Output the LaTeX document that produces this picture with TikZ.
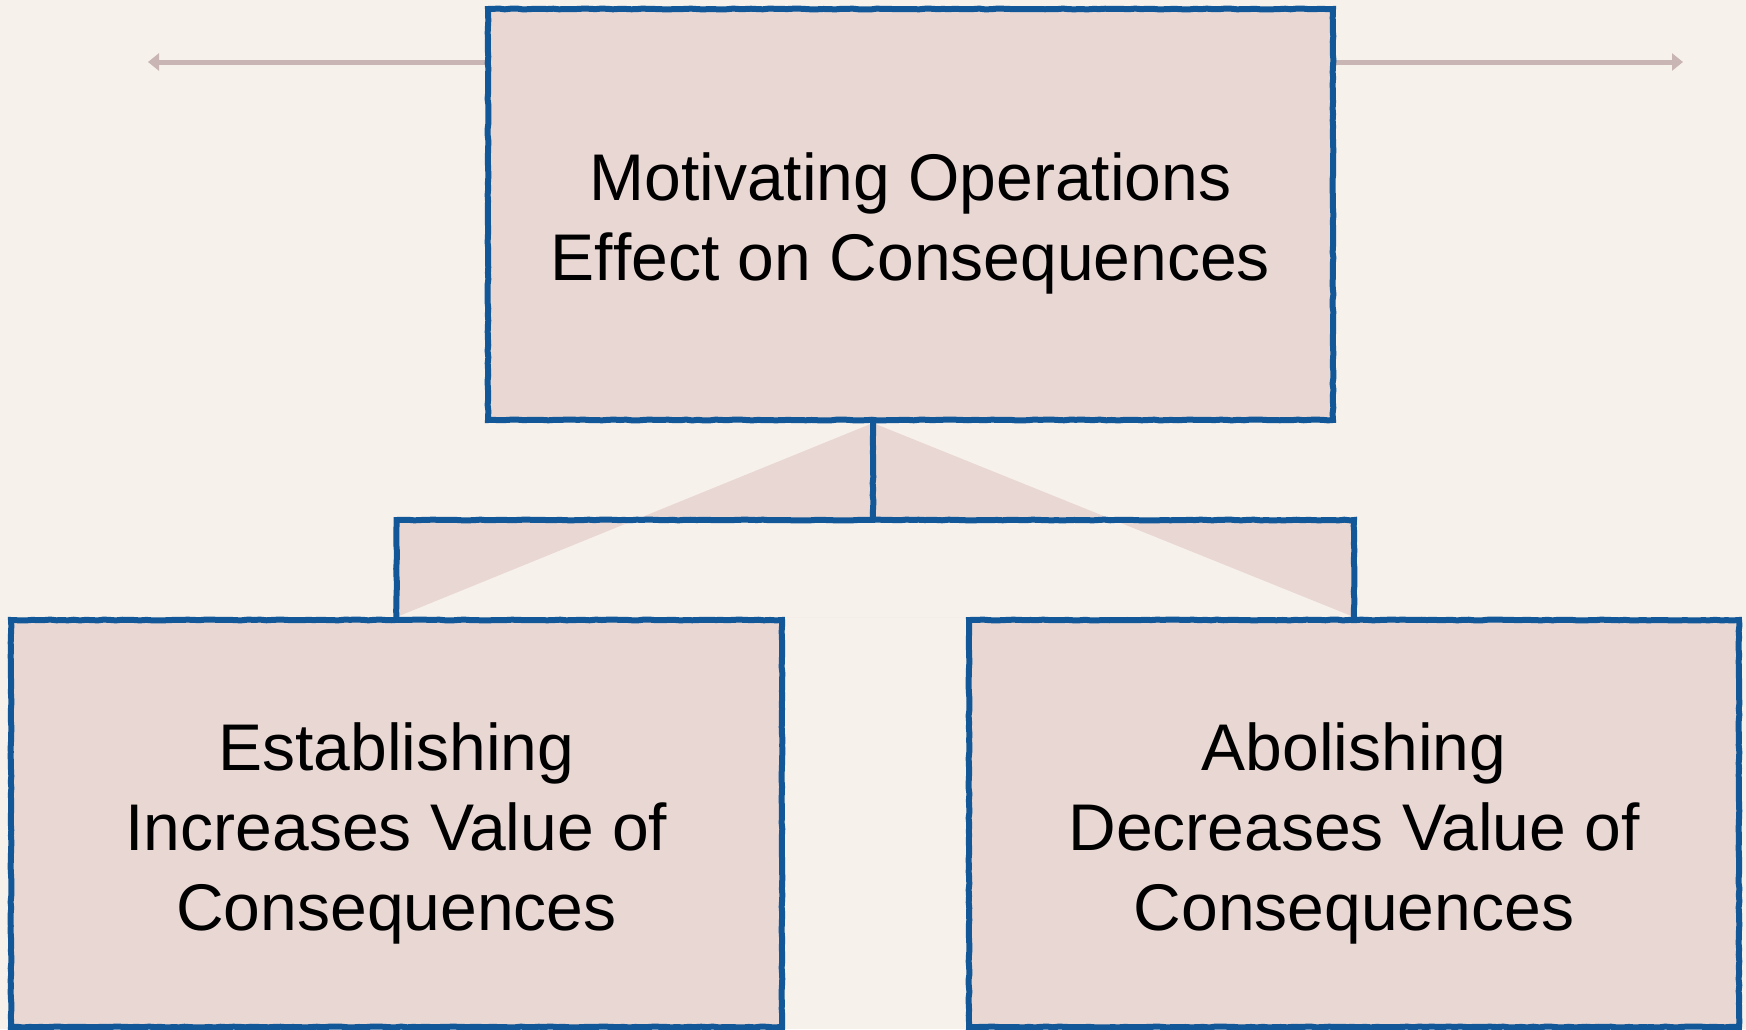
\documentclass[tikz,border=0pt]{standalone}
\usepackage{fontspec}
\setmainfont[Ligatures=NoCommon]{Liberation Sans}
\usetikzlibrary{arrows.meta,decorations.pathmorphing}
\definecolor{paper}{RGB}{247,241,235}
\definecolor{boxpink}{RGB}{233,215,212}
\definecolor{inkblue}{RGB}{18,88,152}
\definecolor{axisgray}{RGB}{201,182,180}
\pgfdeclarelayer{paperlayer}
\pgfdeclarelayer{links}
\pgfsetlayers{paperlayer,links,main}
\pgfmathsetseed{7}
\begin{document}
\begin{tikzpicture}[x=1pt,y=-1pt,
  box/.style={draw=inkblue,line width=6pt,fill=boxpink,rectangle,inner sep=0pt,
              decorate,decoration={random steps,segment length=6pt,amplitude=0.45pt}},
  label text/.style={align=center,text=black,inner sep=0pt,font=\fontsize{66}{80}\selectfont},
  link/.style={draw=inkblue,line width=6pt,
               decorate,decoration={random steps,segment length=6pt,amplitude=0.4pt}},
  axisarrow/.style={draw=axisgray,line width=5pt,-{Triangle[length=11pt,width=17pt]}}]
\useasboundingbox (0,0) rectangle (1746,1029);

% the three boxes
\node[box,minimum width=845pt,minimum height=411pt] (mo) at (910.5,214.5) {};
\node[box,minimum width=771pt,minimum height=407pt] (est) at (396.5,823.5) {};
\node[box,minimum width=770pt,minimum height=407pt] (abol) at (1354,823.5) {};

% their texts
\node[label text] (motext) at ([yshift=-9pt]mo.center)
  {Motivating Operations\\Ef\kern0ptfect on Consequences};
\node[label text] (esttext) at ([yshift=-10pt]est.center)
  {Establishing\\Increases Value of\\Consequences};
\node[label text] (aboltext) at ([yshift=-10pt]abol.center)
  {Abolishing\\Decreases Value of\\Consequences};

% helper points
\coordinate (apexx) at (873,0);
\coordinate (apex) at (apexx |- mo.south);
\coordinate (junction) at (873,520);
\coordinate (ltip) at (148,62);
\coordinate (rtip) at (1683,62);

\begin{pgfonlayer}{paperlayer}
  \fill[paper] (0,0) rectangle (1746,1029);
\end{pgfonlayer}

\begin{pgfonlayer}{links}
  % side arrows
  \draw[axisarrow] (mo.west |- ltip) -- (ltip);
  \draw[axisarrow] (mo.east |- rtip) -- (rtip);
  % shaded wedge behind the bracket
  \fill[boxpink,even odd rule] (apex) -- (est.north) -- (abol.north) -- cycle
    (est.north |- junction) rectangle (abol.north);
  % bracket
  \draw[link] (apex) -- (junction);
  \draw[link] (est.north) -- (est.north |- junction) -- (abol.north |- junction) -- (abol.north);
\end{pgfonlayer}
\end{tikzpicture}
\end{document}
